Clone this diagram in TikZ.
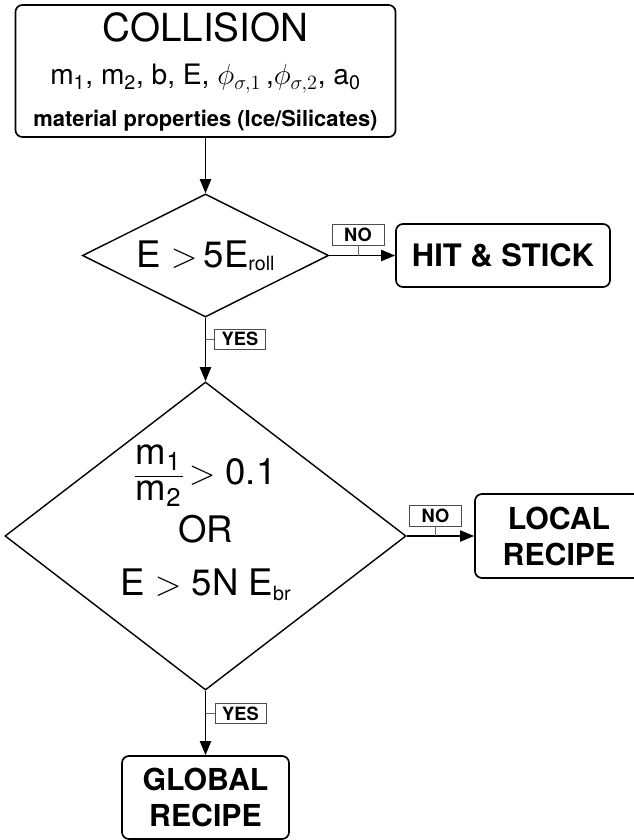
\documentclass[tikz,border=0pt]{standalone}
\usepackage{amsmath}
\usepackage{fontspec}
\setmainfont{TeX Gyre Heros}
\usetikzlibrary{shapes.geometric,arrows.meta}
\newcommand{\lsub}[2][2pt]{\raisebox{-#1}{\fontsize{14}{14}\selectfont #2}}
\newcommand{\mratio}{\ensuremath{\vcenter{\halign{\hfil\kern1pt##\kern1pt\hfil\cr m\textsubscript{1}\cr\noalign{\kern4pt\hrule height0.6pt\kern2.5pt}m\textsubscript{2}\cr}}}}

\begin{document}
\begin{tikzpicture}[x=0.025cm,y=-0.025cm,>={Triangle[length=10pt,width=8pt]},
		box/.style={draw,line width=1.2pt,rounded corners=5pt,align=center,inner sep=0pt},
		decision/.style={draw,diamond,line width=1pt,inner sep=0pt},
		answer/.style={draw=black!70,line width=0.5pt,inner sep=0pt,minimum width=1.3cm,minimum height=0.52cm,font=\fontsize{13}{13}\selectfont\bfseries},
		flow/.style={->,line width=1pt},
		tick/.style={black!60,line width=0.6pt}]
		\useasboundingbox (0,0) rectangle (633,840);
		% boxes and tests
		\node[box,minimum width=9.5cm,minimum height=3.3cm] (coll) at (205.5,71) {\rule{0pt}{4pt}\\[-4pt]\fontsize{27.5}{30}\selectfont COLLISION\\[15pt]
			\fontsize{20}{26}\selectfont m\textsubscript{1}, m\textsubscript{2}, b, E, $\phi_{\sigma,1}$\,,$\phi_{\sigma,2}$, a\textsubscript{0}\\[11pt]
			\fontsize{15.6}{26}\selectfont\bfseries material properties (Ice/Silicates)};
		\node[decision,aspect=2,minimum width=6.15cm,minimum height=3.075cm,font=\fontsize{26}{30}\selectfont] (roll) at (205.5,255.5) {E\ $>$\,5E\lsub{roll}};
		\node[box,minimum width=5.35cm,minimum height=1.575cm,font=\fontsize{22}{26}\selectfont\bfseries] (hit) at (503,255.5) {HIT \& STICK};
		\node[decision,minimum width=10.025cm,minimum height=7.7cm] (frag) at (205.5,536) {};
		\node[align=center,font=\fontsize{26}{30}\selectfont] (fragtxt) at (205.5,523) {\mratio\,$>$ 0.1\\[5pt]
			OR\\[8pt]
			E $>$ 5N E\lsub[3.5pt]{br}};
		\node[box,minimum width=4.2cm,minimum height=2.1cm,font=\fontsize{21.5}{25.6}\selectfont\bfseries] (local) at (559,536) {LOCAL\\RECIPE};
		\node[box,minimum width=4.175cm,minimum height=2.075cm,font=\fontsize{21.5}{25.6}\selectfont\bfseries] (global) at (205.5,797.5) {GLOBAL\\RECIPE};
		% answers
		\node[answer] (no1) at (358,235) {NO};
		\node[answer] (no2) at (435.5,515.5) {NO};
		\node[answer,minimum width=1.275cm,minimum height=0.5cm] (yes1) at (240,339) {YES};
		\node[answer,minimum width=1.275cm,minimum height=0.5cm] (yes2) at (240.5,713.5) {YES};
		% connectors
		\draw[flow] (coll.south) -- (roll.north);
		\draw[flow] (roll.east) -- (hit.west);
		\draw[flow] (roll.south) -- (frag.north);
		\draw[flow] (frag.east) -- (local.west);
		\draw[flow] (frag.south) -- (global.north);
		\draw[tick] (no1.south) -- (no1.south |- roll.east);
		\draw[tick] (no2.south) -- (no2.south |- frag.east);
		\draw[tick] (yes1.west) -- (yes1.west -| roll.south);
		\draw[tick] (yes2.west) -- (yes2.west -| frag.south);
\end{tikzpicture}
\end{document}
